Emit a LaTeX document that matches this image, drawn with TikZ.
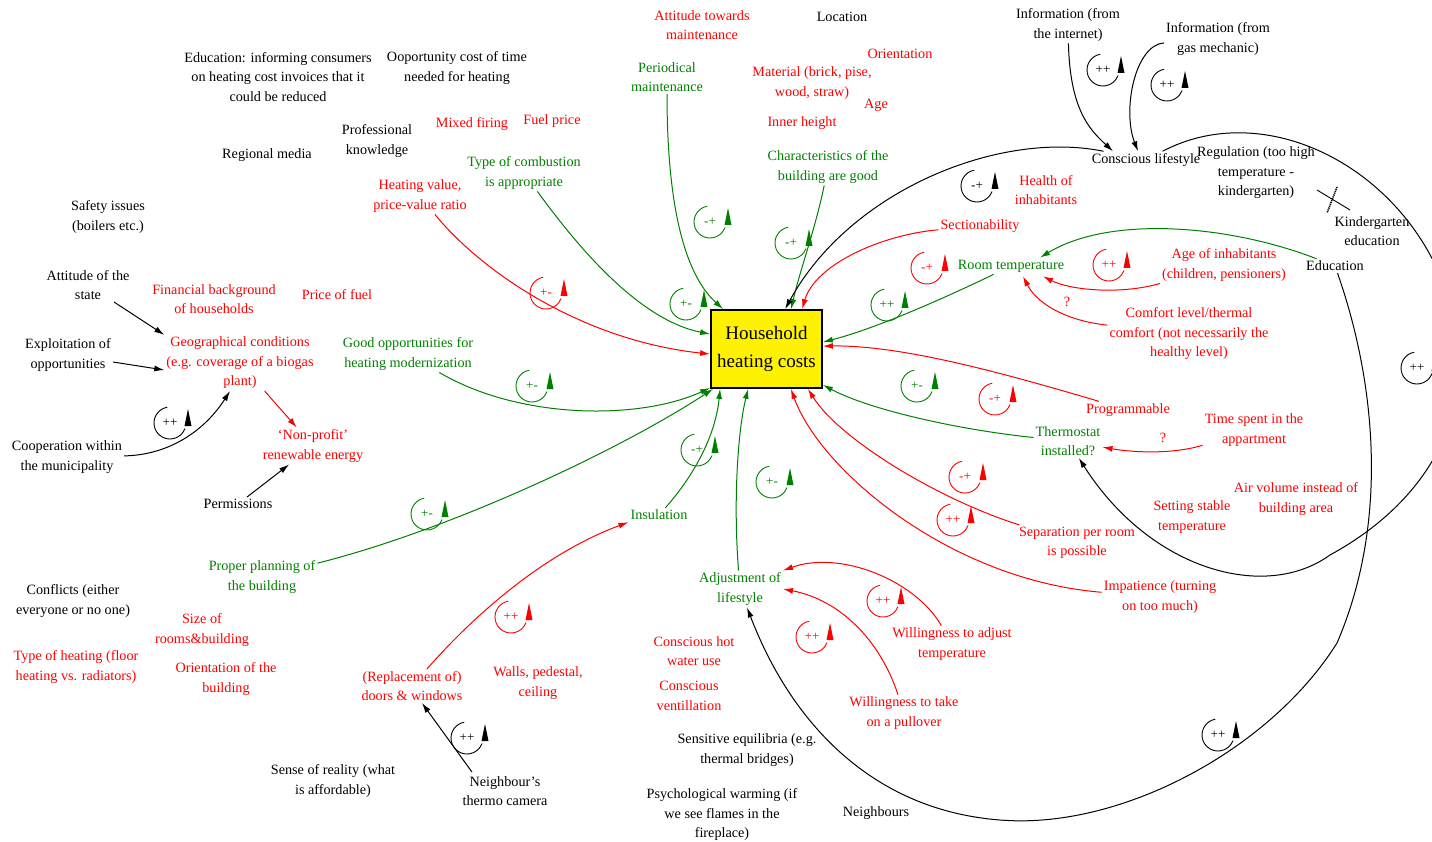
\documentclass[tikz,border=0pt]{standalone}
\usepackage{fontspec}
\setmainfont{Liberation Serif}
\usetikzlibrary{arrows.meta,calc}
\definecolor{cldred}{RGB}{255,0,0}
\definecolor{cldgreen}{RGB}{0,128,0}
\newcommand{\fbloop}[4]{%
	\draw[#3,line width=0.9pt] (#1,#2) ++(-100:16) arc[start angle=-100,end angle=-340,radius=16];
	\fill[#3] (#1+18,#2-14) -- (#1+21.5,#2+3) -- (#1+14.5,#2+3) -- cycle;
	\node[text=#3,font=\fontsize{13}{13}\selectfont,inner sep=0pt] at (#1,#2) {#4};}

\begin{document}
\begin{tikzpicture}[x=1pt,y=-1pt,
	kt/.style={align=center,inner sep=2pt,font=\fontsize{14.2}{19.5}\selectfont},
	rt/.style={kt,text=cldred},
	gt/.style={kt,text=cldgreen},
	kl/.style={line width=1pt,-{Latex[length=10pt,width=6pt]}},
	rl/.style={kl,cldred},
	gl/.style={kl,cldgreen}]
			\clip (0,0) rectangle (1432,842);
			\node[draw,line width=1.8pt,fill=yellow,minimum width=111pt,minimum height=78pt,align=center,font=\fontsize{19}{28}\selectfont] (hhc) at (766.5,349) {Household\\heating costs};
			\node[kt] (edu) at (278,77) {Education: informing consumers\\on heating cost invoices that it\\could be reduced};
			\node[kt] (opp) at (457,68) {Ooportunity cost of time\\needed for heating};
			\node[kt] (loc) at (842,17) {Location};
			\node[kt] (inet) at (1068,25) {Information (from\\the internet)};
			\node[kt] (gas) at (1218,39) {Information (from\\gas mechanic)};
			\node[kt] (prof) at (377,141) {Professional\\knowledge};
			\node[kt] (media) at (267,155) {Regional media};
			\node[kt] (safe) at (108,217) {Safety issues\\(boilers etc.)};
			\node[kt] (state) at (88,285) {Attitude of the\\state};
			\node[kt] (expl) at (68,355) {Exploitation of\\opportunities};
			\node[kt] (coop) at (67,457) {Cooperation within\\the municipality};
			\node[kt] (perm) at (238,504) {Permissions};
			\node[kt] (confl) at (73,601) {Conflicts (either\\everyone or no one)};
			\node[kt] (sense) at (333,781) {Sense of reality (what\\is affordable)};
			\node[kt] (cam) at (505,791) {Neighbour's\\thermo camera};
			\node[kt] (equi) at (747,750) {Sensitive equilibria (e.g.\\thermal bridges)};
			\node[kt] (psych) at (722,815) {Psychological warming (if\\we see flames in the\\fireplace)};
			\node[kt] (neigh) at (876,813) {Neighbours};
			\node[kt] (consc) at (1146,160) {Conscious lifestyle};
			\node[kt] (regul) at (1256,173) {Regulation (too high\\temperature -\\kindergarten)};
			\node[kt] (kind) at (1372,231) {Kindergarten\\education};
			\node[kt] (educ) at (1335,266) {Education};
			\node[rt] (attm) at (702,25) {Attitude towards\\maintenance};
			\node[rt] (orient) at (900,54) {Orientation};
			\node[rt] (mat) at (812,83) {Material (brick, pise,\\wood, straw)};
			\node[rt] (age) at (876,105) {Age};
			\node[rt] (inner) at (802,123) {Inner height};
			\node[rt] (mixed) at (472,124) {Mixed firing};
			\node[rt] (fuel) at (552,121) {Fuel price};
			\node[rt] (hv) at (420,196) {Heating value,\\price-value ratio};
			\node[rt] (health) at (1046,190) {Health of\\inhabitants};
			\node[rt] (sect) at (980,226) {Sectionability};
			\node[rt] (ageinh) at (1224,265) {Age of inhabitants\\(children, pensioners)};
			\node[rt] (fin) at (214,299) {Financial background\\of households};
			\node[rt] (pfuel) at (337,295) {Price of fuel};
			\node[rt] (geo) at (240,363) {Geographical conditions\\(e.g. coverage of a biogas\\plant)};
			\node[rt] (nonprof) at (313,446) {`Non-profit'\\renewable energy};
			\node[rt] (comfort) at (1189,334) {Comfort level/thermal\\comfort (not necessarily the\\healthy level)};
			\node[rt] (prog) at (1128,410) {Programmable};
			\node[rt] (tspent) at (1254,430) {Time spent in the\\appartment};
			\node[rt] (stable) at (1192,517) {Setting stable\\temperature};
			\node[rt] (air) at (1296,499) {Air volume instead of\\building area};
			\node[rt] (sep) at (1077,543) {Separation per room\\is possible};
			\node[rt] (impat) at (1160,597) {Impatience (turning\\on too much)};
			\node[rt] (size) at (202,630) {Size of\\rooms\&building};
			\node[rt] (theat) at (76,667) {Type of heating (floor\\heating vs. radiators)};
			\node[rt] (orbld) at (226,679) {Orientation of the\\building};
			\node[rt] (doors) at (412,686) {(Replacement of)\\doors \& windows};
			\node[rt] (walls) at (538,683) {Walls, pedestal,\\ceiling};
			\node[rt] (hotw) at (694,651) {Conscious hot\\water use};
			\node[rt] (vent) at (689,696) {Conscious\\ventillation};
			\node[rt] (wadj) at (952,644) {Willingness to adjust\\temperature};
			\node[rt] (wpull) at (904,713) {Willingness to take\\on a pullover};
			\node[rt] (qa) at (1067,302) {?};
			\node[rt] (qb) at (1163,438) {?};
			\node[gt] (permaint) at (667,77) {Periodical\\maintenance};
			\node[gt] (comb) at (524,173) {Type of combustion\\is appropriate};
			\node[gt] (charb) at (828,167) {Characteristics of the\\building are good};
			\node[gt] (roomt) at (1011,266) {Room temperature};
			\node[gt] (goodopp) at (408,354) {Good opportunities for\\heating modernization};
			\node[gt] (thermo) at (1068,441) {Thermostat\\installed?};
			\node[gt] (insul) at (659,515) {Insulation};
			\node[gt] (plan) at (262,577) {Proper planning of\\the building};
			\node[gt] (adj) at (740,589) {Adjustment of\\lifestyle};
			\draw[gl] (permaint) .. controls (667,190) and (680,270) .. ($(hhc.north west)+(13,0)$);
			\draw[gl] (comb) .. controls (580,250) and (640,320) .. ($(hhc.north west)+(0,25)$);
			\draw[rl] (hv) .. controls (480,270) and (580,340) .. ($(hhc.north west)+(0,45)$);
			\draw[gl] (goodopp) .. controls (520,420) and (640,420) .. ($(hhc.south west)+(0,-1)$);
			\draw[gl] (plan) .. controls (450,530) and (620,450) .. ($(hhc.south west)+(3,0)$);
			\draw[gl] (insul) .. controls (690,480) and (715,440) .. ($(hhc.south west)+(10,0)$);
			\draw[gl] (adj) .. controls (733,500) and (738,430) .. ($(hhc.south west)+(38,0)$);
			\draw[gl] (charb) .. controls (815,230) and (800,270) .. ($(hhc.north west)+(81,0)$);
			\draw[kl] (consc) .. controls (1000,130) and (850,190) .. ($(hhc.north west)+(75,0)$);
			\draw[rl] (sect) .. controls (880,235) and (815,265) .. ($(hhc.north west)+(92,0)$);
			\draw[gl] (roomt) .. controls (930,305) and (870,330) .. ($(hhc.north east)+(0,33)$);
			\draw[rl] (prog) .. controls (1000,372) and (900,345) .. ($(hhc.north east)+(0,37)$);
			\draw[gl] (thermo) .. controls (960,430) and (870,410) .. ($(hhc.south east)+(0,-4)$);
			\draw[rl] (sep) .. controls (940,500) and (840,440) .. ($(hhc.south east)+(-15,0)$);
			\draw[rl] (impat) .. controls (950,580) and (820,470) .. ($(hhc.south east)+(-32,0)$);
			\draw[kl] (inet) .. controls (1070,110) and (1090,130) .. ($(consc.north)+(-33,0)$);
			\draw[kl] (gas) .. controls (1135,45) and (1122,110) .. ($(consc.north)+(-8,0)$);
			\draw[kl] (consc) .. controls (1260,100) and (1390,160) .. (1440,275) .. controls (1490,390) and (1440,495) .. (1330,555) .. controls (1265,602) and (1150,570) .. (thermo);
			\draw[kl] (educ) .. controls (1375,380) and (1390,520) .. (1337,643) .. controls (1270,750) and (1120,830) .. (1000,820) .. controls (870,810) and (790,720) .. (adj);
			\draw[gl] (educ) .. controls (1230,225) and (1110,215) .. ($(roomt.north)+(29,0)$);
			\draw[rl] (ageinh) .. controls (1120,295) and (1070,290) .. ($(roomt.south)+(32,2)$);
			\draw[rl] (comfort) .. controls (1060,320) and (1035,300) .. ($(roomt.south)+(12,2)$);
			\draw[rl] (tspent) .. controls (1170,455) and (1130,452) .. (thermo);
			\draw[kl] (state) -- (geo.north west);
			\draw[kl] (expl) -- ($(geo.west)+(0,7)$);
			\draw[kl] (coop) .. controls (170,455) and (205,430) .. ($(geo.south)+(-10,0)$);
			\draw[rl] (geo) -- (nonprof);
			\draw[kl] (perm) -- (nonprof);
			\draw[rl] (doors) .. controls (470,620) and (540,555) .. (insul.south west);
			\draw[kl] ($(cam.north)+(-33,-2)$) -- ($(doors.south)+(10,0)$);
			\draw[rl] (wadj) .. controls (915,580) and (840,550) .. (adj.north east);
			\draw[rl] (wpull) .. controls (880,640) and (840,600) .. (adj.east);
			\draw[line width=0.9pt] (1317,190) -- (1350,210);
			\draw[line width=1.6pt,dash pattern=on 1.2pt off 0.8pt] (1337,187) -- (1327,213);
			\fbloop{710}{222}{cldgreen}{-+}
			\fbloop{686}{304}{cldgreen}{+-}
			\fbloop{791}{243}{cldgreen}{-+}
			\fbloop{532}{386}{cldgreen}{+-}
			\fbloop{427}{514}{cldgreen}{+-}
			\fbloop{697}{450}{cldgreen}{-+}
			\fbloop{887}{305}{cldgreen}{++}
			\fbloop{917}{386}{cldgreen}{+-}
			\fbloop{772}{482}{cldgreen}{+-}
			\fbloop{546}{293}{cldred}{+-}
			\fbloop{927}{268}{cldred}{-+}
			\fbloop{995}{399}{cldred}{-+}
			\fbloop{965}{477}{cldred}{-+}
			\fbloop{953}{520}{cldred}{++}
			\fbloop{1109}{265}{cldred}{++}
			\fbloop{511}{617}{cldred}{++}
			\fbloop{883}{601}{cldred}{++}
			\fbloop{812}{637}{cldred}{++}
			\fbloop{170}{423}{black}{++}
			\fbloop{467}{738}{black}{++}
			\fbloop{1103}{70}{black}{++}
			\fbloop{1167}{85}{black}{++}
			\fbloop{977}{186}{black}{-+}
			\fbloop{1417}{368}{black}{++}
			\fbloop{1218}{735}{black}{++}
\end{tikzpicture}
\end{document}
